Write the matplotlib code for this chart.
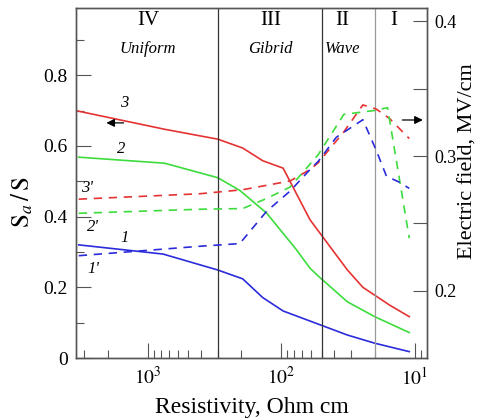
import math
import matplotlib.pyplot as plt
from matplotlib.ticker import LogLocator, NullFormatter, FixedLocator, FuncFormatter

plt.rcParams['font.family'] = ['Liberation Serif', 'DejaVu Serif']
plt.rcParams['mathtext.fontset'] = 'stix'

# curve 1-3: S_a/S (left axis), curves 1'-3': electric field (right axis)
R3 = [3400, 750, 300, 195, 138, 97, 61, 32, 24.5, 15.5, 11]
S3 = [0.699, 0.647, 0.619, 0.594, 0.558, 0.537, 0.391, 0.249, 0.200, 0.150, 0.117]

R2 = [3300, 750, 300, 205, 129, 77, 61, 53, 32, 20, 11]
S2 = [0.568, 0.551, 0.510, 0.474, 0.410, 0.306, 0.254, 0.232, 0.159, 0.117, 0.072]

R1 = [3300, 770, 300, 195, 138, 97, 53, 32, 20, 11]
S1 = [0.320, 0.294, 0.249, 0.224, 0.171, 0.133, 0.096, 0.065, 0.042, 0.018]

R3d = [3300, 410, 195, 86, 61, 53, 34, 24.5, 19.5, 15.5, 11]
E3d = [0.268, 0.272, 0.275, 0.2815, 0.290, 0.295, 0.318, 0.338, 0.335, 0.328, 0.313]

R2d = [3300, 410, 195, 129, 86, 53, 34, 19.5, 16, 11]
E2d = [0.2575, 0.2605, 0.261, 0.2685, 0.277, 0.301, 0.331, 0.334, 0.336, 0.239]

R1d = [3300, 410, 205, 129, 86, 61, 53, 38.7, 24.5, 19.5, 16.3, 13.3, 11]
E1d = [0.226, 0.233, 0.235, 0.259, 0.274, 0.290, 0.296, 0.314, 0.327, 0.3045, 0.285, 0.281, 0.276]

boundaries = [300, 50, 20]
regimes = [("IV", "Uniform", 1000), ("III", "Gibrid", 120), ("II", "Wave", 35), ("I", None, 14.5)]

red = "#e53232"
green = "#3ddc3d"
blue = "#2b2bdb"
frame = "#555555"

fig = plt.figure(figsize=(4.82, 4.18), dpi=100)
ax = fig.add_axes([0.1577, 0.1435, 0.7282, 0.8374])
ax2 = ax.twinx()

ax.plot(R3, S3, color=red, lw=1.2)
ax.plot(R2, S2, color=green, lw=1.2)
ax.plot(R1, S1, color=blue, lw=1.2)
ax2.plot(R3d, E3d, color=red, lw=1.2, dashes=(5, 4))
ax2.plot(R2d, E2d, color=green, lw=1.2, dashes=(5, 4))
ax2.plot(R1d, E1d, color=blue, lw=1.2, dashes=(5, 4))

ax.set_xscale("log")
ax.set_xlim(3460, 8.1)
ax.set_ylim(0, 0.99)
ax2.set_ylim(0.15, 0.41)

for i, b in enumerate(boundaries):
    ax.axvline(b, color="#999999" if i == 2 else "#333333", lw=0.9)

for num, name, x in regimes:
    ax.text(x, 0.955, num, ha="center", va="center", fontsize=15)
    if name:
        ax.text(x, 0.875, name, ha="center", va="center", fontsize=12, style="italic")

labels = [("3", 1500, 0.72), ("2", 1580, 0.59), ("3'", 2850, 0.48),
          ("2'", 2600, 0.37), ("1", 1500, 0.34), ("1'", 2550, 0.253)]
for t, x, y in labels:
    ax.text(x, y, t, ha="center", va="center", fontsize=12, style="italic")

ax.annotate("", xy=(2150, 0.665), xytext=(1450, 0.665),
            arrowprops=dict(arrowstyle="-|>", color="black", lw=0.9, mutation_scale=12))
ax2.annotate("", xy=(8.3, 0.3268), xytext=(13, 0.3268),
             arrowprops=dict(arrowstyle="-|>", color="black", lw=0.9, mutation_scale=12))

ax.xaxis.set_major_locator(LogLocator(base=10, numticks=10))
ax.xaxis.set_minor_locator(LogLocator(base=10, subs=range(2, 10), numticks=20))
ax.xaxis.set_minor_formatter(NullFormatter())
ax.xaxis.set_major_formatter(FuncFormatter(lambda v, p: r"$10^{%d}$" % round(math.log10(v))))

ax.yaxis.set_major_locator(FixedLocator([0, 0.2, 0.4, 0.6, 0.8]))
ax.yaxis.set_minor_locator(FixedLocator([0.1, 0.3, 0.5, 0.7, 0.9]))
ax.yaxis.set_major_formatter(FuncFormatter(lambda v, p: "0" if v == 0 else "%.1f" % v))
ax2.yaxis.set_major_locator(FixedLocator([0.2, 0.3, 0.4]))
ax2.yaxis.set_minor_locator(FixedLocator([0.25, 0.35]))

ax.tick_params(which="major", direction="in", length=11, width=0.8, color=frame, labelsize=14, pad=6)
ax.tick_params(which="minor", direction="in", length=6, width=0.8, color=frame)
ax.tick_params(axis="y", right=False, which="both")
ax2.tick_params(which="major", direction="in", length=10, width=0.8, color=frame, labelsize=13, pad=5)
ax2.tick_params(which="minor", direction="in", length=10, width=0.8, color=frame)

for a in (ax, ax2):
    for s in a.spines.values():
        s.set_color(frame)
        s.set_linewidth(1.0)

ax.set_xlabel("Resistivity, Ohm cm", fontsize=17, labelpad=6)
ax.set_ylabel(r"$\mathrm{S}_a\,/\,\mathrm{S}$", fontsize=18, labelpad=6)
ax.yaxis.label.set_y(0.446)
ax2.set_ylabel("Electric field, MV/cm", fontsize=16, labelpad=2)
ax2.yaxis.label.set_y(0.563)

fig.savefig("out.png", dpi=100)
